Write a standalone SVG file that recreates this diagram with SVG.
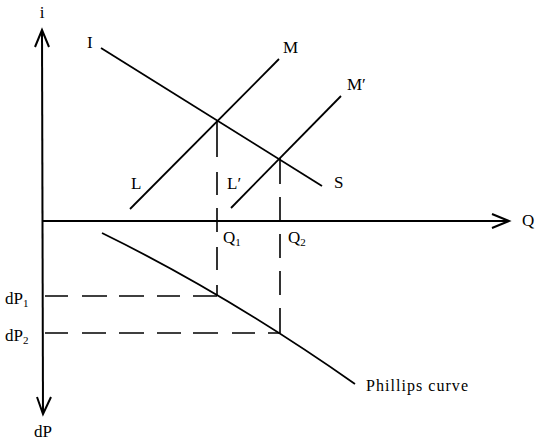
<svg xmlns="http://www.w3.org/2000/svg" width="535" height="441" viewBox="0 0 535 441">
<style>
.ax{stroke:#000;stroke-width:2;fill:none}
.ln{stroke:#000;stroke-width:1.8;fill:none}
.ds{stroke:#000;stroke-width:1.6;fill:none}
text{font-family:"Liberation Serif","Times New Roman",serif;font-size:17px;fill:#000}
.sub{font-size:11px}
.pc{font-size:16px}
</style>
<rect width="535" height="441" fill="#fff"/>
<g id="axes">
<path class="ax" d="M42,30 L43,413"/>
<path class="ax" d="M35,47 L42,30 L49,47"/>
<path class="ax" d="M37,397 L43,414 L51,397"/>
<path class="ax" d="M42,221 L509,221"/>
<path class="ax" d="M492,214 L509,221 L492,228"/>
</g>
<g id="connectors">
<path id="IS" class="ln" d="M101,48 L322,186"/>
<path id="LM" class="ln" d="M130,209 L279,59"/>
<path id="LM2" class="ln" d="M231,208 L341,96"/>
<path id="phillips" class="ln" d="M102,233 Q227.5,294.5 355,384"/>
<path class="ds" d="M217,120V157M217,172V195M217,208V232M217,247V270M217,285V296"/>
<path class="ds" d="M280,158V184M280,197V221M280,234V258M280,271V295M280,308V333"/>
<path class="ds" d="M45,296H68M82,296H107M119,296H144M157,296H180M193,296H217"/>
<path class="ds" d="M45,333H68M82,333H106M119,333H144M157,333H181M193,333H218M232,333H255M268,333H280"/>
</g>
<g id="labels">
<text x="42" y="18" text-anchor="middle">i</text>
<text x="43" y="437" text-anchor="middle">dP</text>
<text x="522" y="226">Q</text>
<text x="87" y="48">I</text>
<text x="283" y="53">M</text>
<text x="347" y="90">M′</text>
<text x="131" y="189">L</text>
<text x="227" y="189">L′</text>
<text x="334" y="188">S</text>
<text x="223" y="243">Q<tspan class="sub" dy="3">1</tspan></text>
<text x="288" y="243">Q<tspan class="sub" dy="3">2</tspan></text>
<text x="5" y="304">dP<tspan class="sub" dy="3">1</tspan></text>
<text x="5" y="341">dP<tspan class="sub" dy="3">2</tspan></text>
<text class="pc" x="366" y="391" textLength="102" lengthAdjust="spacing">Phillips curve</text>
</g>
</svg>
